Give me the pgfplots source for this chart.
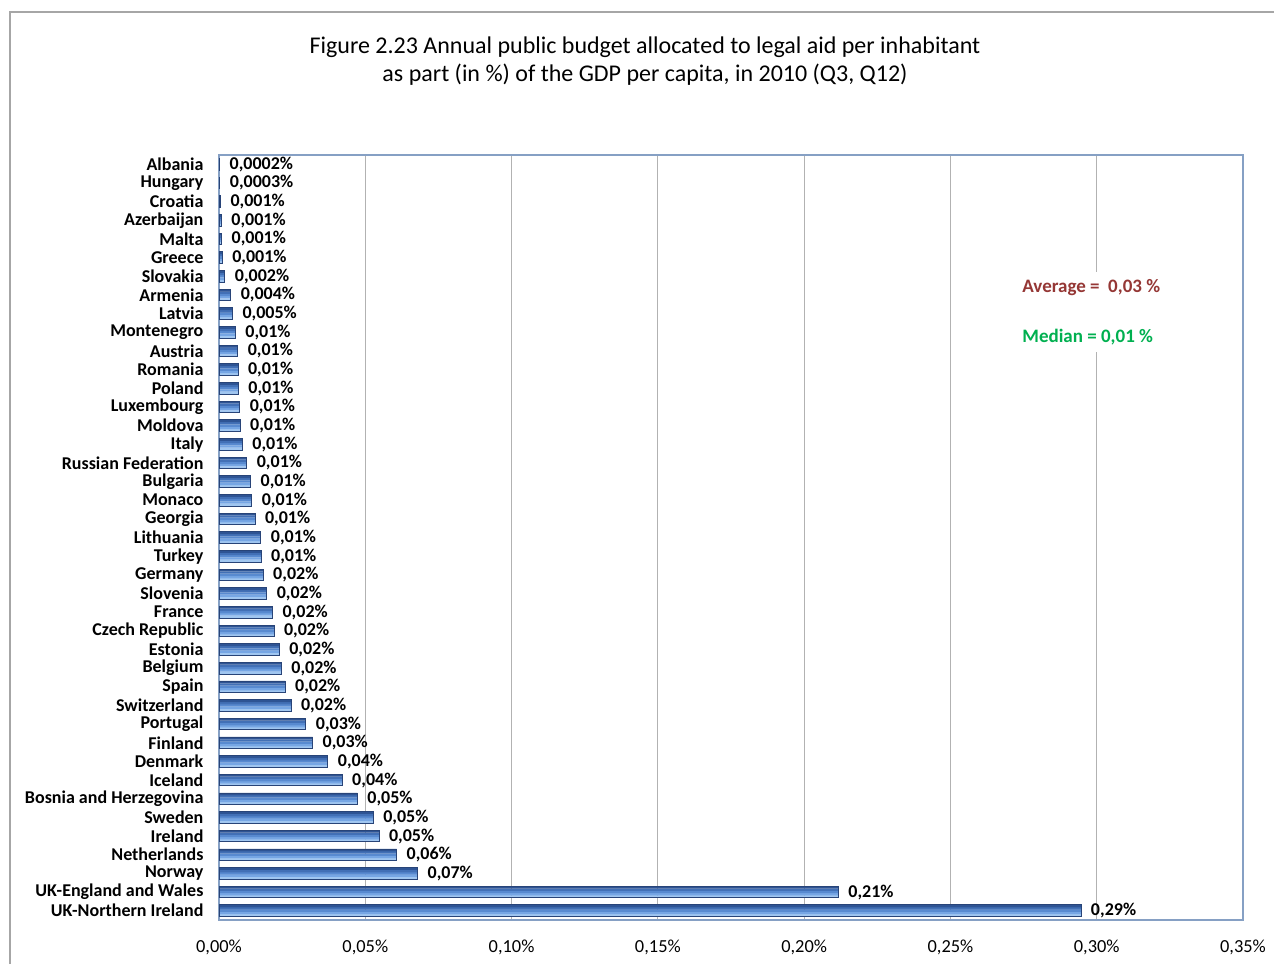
\documentclass[border=0pt]{standalone}
\usepackage{fontspec}
\setmainfont{Carlito}
\usepackage{pgfplots}
\usepackage{pgfplotstable}
\pgfplotsset{compat=1.18}

\definecolor{barA}{RGB}{160,198,240}
\definecolor{barB}{RGB}{118,166,228}
\definecolor{barC}{RGB}{88,138,208}
\definecolor{barD}{RGB}{66,112,182}
\definecolor{barE}{RGB}{46,84,148}
\definecolor{barline}{RGB}{40,68,120}
\definecolor{plotframe}{RGB}{134,160,196}
\definecolor{avgred}{RGB}{149,55,53}
\definecolor{medgreen}{RGB}{0,176,80}

% value in % of GDP per capita; lab = printed label
\pgfplotstableread[col sep=semicolon]{
idx;name;val;lab
0;Albania;0.0002;0,0002
1;Hungary;0.0003;0,0003
2;Croatia;0.0005;0,001
3;Azerbaijan;0.0008;0,001
4;Malta;0.0009;0,001
5;Greece;0.0011;0,001
6;Slovakia;0.0020;0,002
7;Armenia;0.0040;0,004
8;Latvia;0.0046;0,005
9;Montenegro;0.0056;0,01
10;Austria;0.0064;0,01
11;Romania;0.0065;0,01
12;Poland;0.0066;0,01
13;Luxembourg;0.0071;0,01
14;Moldova;0.0072;0,01
15;Italy;0.0080;0,01
16;Russian Federation;0.0095;0,01
17;Bulgaria;0.0108;0,01
18;Monaco;0.0112;0,01
19;Georgia;0.0123;0,01
20;Lithuania;0.0143;0,01
21;Turkey;0.0144;0,01
22;Germany;0.0151;0,02
23;Slovenia;0.0163;0,02
24;France;0.0183;0,02
25;Czech Republic;0.0188;0,02
26;Estonia;0.0206;0,02
27;Belgium;0.0213;0,02
28;Spain;0.0226;0,02
29;Switzerland;0.0246;0,02
30;Portugal;0.0297;0,03
31;Finland;0.0320;0,03
32;Denmark;0.0372;0,04
33;Iceland;0.0421;0,04
34;Bosnia and Herzegovina;0.0473;0,05
35;Sweden;0.0527;0,05
36;Ireland;0.0547;0,05
37;Netherlands;0.0607;0,06
38;Norway;0.0679;0,07
39;UK-England and Wales;0.2117;0,21
40;UK-Northern Ireland;0.2946;0,29
}\legaldata

\begin{document}
\begin{tikzpicture}
  \useasboundingbox (0pt,0pt) rectangle (637pt,482pt);
  % chart area border
  \draw[gray!70, line width=0.6pt] (5pt,0pt) -- (5pt,476pt) -- (640pt,476pt);

  \node[align=center, font=\fontsize{12}{14.2}\selectfont] at (322.5pt,451.5pt)
    {Figure 2.23 Annual public budget allocated to legal aid per inhabitant\\
     as part (in \%) of the GDP per capita, in 2010 (Q3, Q12)};

  \begin{axis}[
      at={(109.5pt,22pt)}, anchor=south west,
      scale only axis, width=512pt, height=382.5pt,
      xbar, bar width=1.2pt,
      xmin=0, xmax=0.35, ymin=-0.5, ymax=40.5,
      y dir=reverse,
      xtick={0,0.05,0.10,0.15,0.20,0.25,0.30,0.35},
      xticklabels={{0,00\%},{0,05\%},{0,10\%},{0,15\%},{0,20\%},{0,25\%},{0,30\%},{0,35\%}},
      ytick={0,1,...,40},
      yticklabels from table={\legaldata}{name},
      xmajorgrids,
      grid style={gray!60, line width=0.5pt},
      axis line style={plotframe, line width=0.6pt},
      tick style={draw=none},
      /pgf/number format/assume math mode=true,
      yticklabel style={font=\fontsize{9}{10}\selectfont\bfseries, xshift=0pt},
      xticklabel style={font=\fontsize{9.2}{10}\selectfont, yshift=-6.5pt},
      clip=false,
    ]
    % bars built from horizontal stripes for a cylinder look
    \addplot[draw=none, fill=barA, bar shift=-2.3pt] table[x=val, y=idx] {\legaldata};
    \addplot[draw=none, fill=barB, bar shift=-1.15pt] table[x=val, y=idx] {\legaldata};
    \addplot[draw=none, fill=barC, bar shift=0pt] table[x=val, y=idx] {\legaldata};
    \addplot[draw=none, fill=barD, bar shift=1.15pt] table[x=val, y=idx] {\legaldata};
    \addplot[draw=none, fill=barE, bar shift=2.3pt] table[x=val, y=idx] {\legaldata};
    % outline and value labels
    \addplot[draw=barline, line width=0.4pt, fill=none, bar width=5.8pt, bar shift=0pt,
      point meta=explicit symbolic,
      nodes near coords={\pgfplotspointmeta\%},
      every node near coord/.append style={font=\fontsize{9}{10}\selectfont\bfseries, text=black, anchor=west, xshift=1.5pt}]
      table[x=val, y=idx, meta=lab] {\legaldata};
  \end{axis}

  % statistics box
  \fill[white] (506pt,306pt) rectangle (590pt,346pt);
  \node[anchor=west, inner sep=0pt, text=avgred, font=\fontsize{9.5}{10}\selectfont\bfseries] at (511pt,338pt) {Average =\ \ 0,03 \%};
  \node[anchor=west, inner sep=0pt, text=medgreen, font=\fontsize{9.5}{10}\selectfont\bfseries] at (511pt,313.5pt) {Median = 0,01 \%};
\end{tikzpicture}
\end{document}
